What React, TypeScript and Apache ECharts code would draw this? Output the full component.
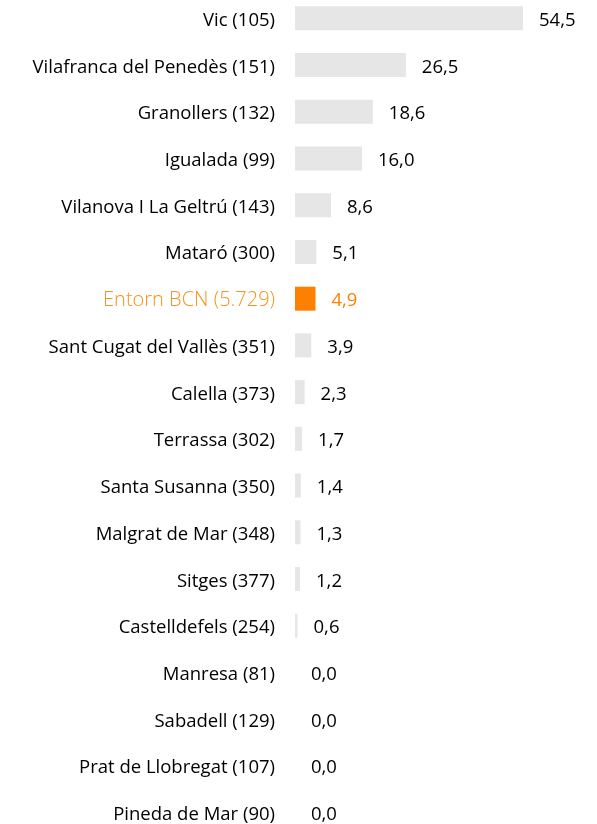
import React, { useEffect, useRef } from "react";
import * as echarts from "echarts";

const categories = [
  "Vic (105)",
  "Vilafranca del Penedès (151)",
  "Granollers (132)",
  "Igualada (99)",
  "Vilanova I La Geltrú (143)",
  "Mataró (300)",
  "Entorn BCN (5.729)",
  "Sant Cugat del Vallès (351)",
  "Calella (373)",
  "Terrassa (302)",
  "Santa Susanna (350)",
  "Malgrat de Mar (348)",
  "Sitges (377)",
  "Castelldefels (254)",
  "Manresa (81)",
  "Sabadell (129)",
  "Prat de Llobregat (107)",
  "Pineda de Mar (90)",
];
const values = [54.5, 26.5, 18.6, 16.0, 8.6, 5.1, 4.9, 3.9, 2.3, 1.7, 1.4, 1.3, 1.2, 0.6, 0.0, 0.0, 0.0, 0.0];
const highlight = "Entorn BCN (5.729)";

const GRAY = "#E6E6E6";
const ORANGE = "#FF8000";
const ORANGE_TEXT = "#F7931E";
const FONT = "'Open Sans', Lato, sans-serif";
const FS = 18.5;

export default function App() {
  const ref = useRef<HTMLDivElement>(null);
  useEffect(() => {
    if (!ref.current) return;
    const chart = echarts.init(ref.current, undefined, { renderer: "svg" });
    chart.setOption({
      animation: false,
      grid: { left: 295, right: 74, top: 0, bottom: 0, containLabel: false },
      xAxis: { type: "value", min: 0, max: 54.5, show: false },
      yAxis: {
        type: "category",
        inverse: true,
        data: categories.map((c) =>
          c === highlight
            ? { value: c, textStyle: { color: ORANGE_TEXT, fontWeight: 300, fontSize: 20 } }
            : c
        ),
        axisLine: { show: false },
        axisTick: { show: false },
        splitLine: { show: false },
        axisLabel: { margin: 20, color: "#000", fontSize: FS, fontFamily: FONT },
      },
      series: [
        {
          type: "bar",
          barWidth: 24,
          data: values.map((v, i) => ({
            value: v,
            itemStyle: { color: categories[i] === highlight ? ORANGE : GRAY },
            label: categories[i] === highlight ? { color: ORANGE } : undefined,
          })),
          label: {
            show: true,
            position: "right",
            distance: 16,
            color: "#000",
            fontSize: FS,
            fontFamily: FONT,
            formatter: (p: any) => Number(p.value).toFixed(1).replace(".", ","),
          },
        },
      ],
    });
    return () => chart.dispose();
  }, []);
  return (
    <div
      ref={ref}
      style={{ position: "fixed", left: 0, top: -5.35, width: 597, height: 840.7 }}
    />
  );
}
